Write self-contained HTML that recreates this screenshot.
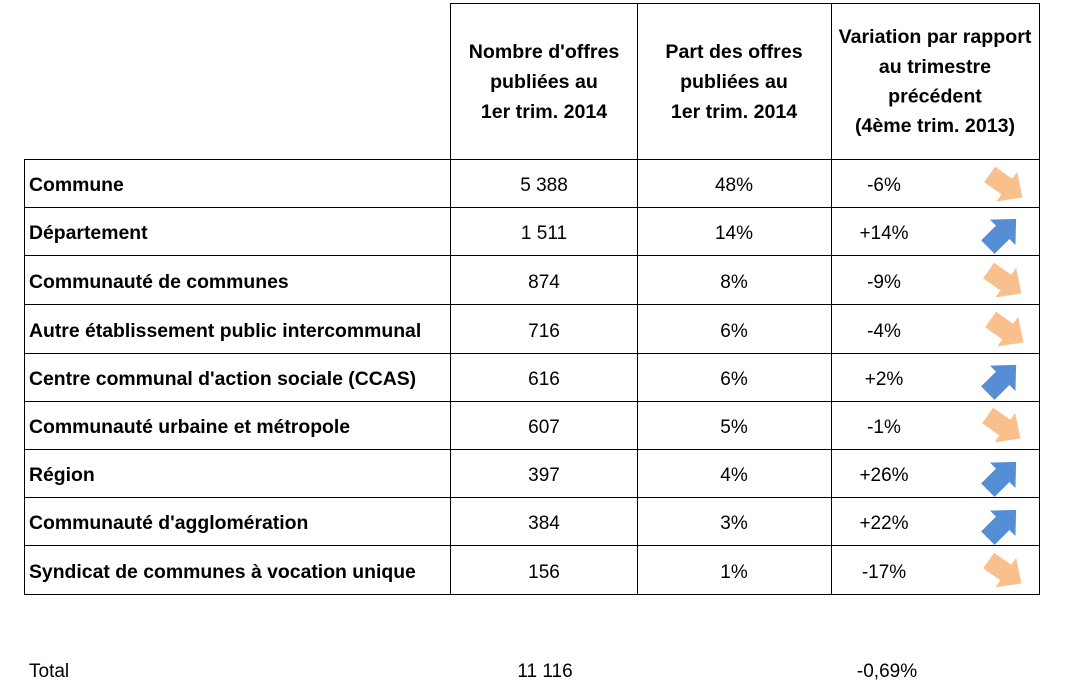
<!DOCTYPE html>
<html>
<head>
<meta charset="utf-8">
<style>
html,body{margin:0;padding:0;background:#fff;}
body{width:1068px;height:692px;overflow:hidden;}
svg{display:block;}
text{font-family:"Liberation Sans",Arial,sans-serif;fill:#000;}
.b{font-weight:bold;font-size:19.4px;}
.h{font-weight:bold;font-size:19.6px;}
.r{font-size:19px;}
</style>
</head>
<body>
<svg width="1068" height="692" viewBox="0 0 1068 692" xmlns="http://www.w3.org/2000/svg">
<defs>
<polygon id="arr" points="-20,-9.5 1,-9.5 1,-18 20,0 1,18 1,9.5 -20,9.5"/>
</defs>
<g stroke="#000" stroke-width="1.3" fill="none" shape-rendering="crispEdges">
<line x1="450" y1="3.5" x2="1039" y2="3.5"/>
<line x1="450.5" y1="3" x2="450.5" y2="594"/>
<line x1="637.5" y1="3" x2="637.5" y2="594"/>
<line x1="831.5" y1="3" x2="831.5" y2="594"/>
<line x1="1039.5" y1="3" x2="1039.5" y2="594"/>
<line x1="24.5" y1="159" x2="24.5" y2="594"/>
<line x1="24" y1="159.5" x2="1040" y2="159.5"/>
<line x1="24" y1="207.5" x2="1040" y2="207.5"/>
<line x1="24" y1="255.5" x2="1040" y2="255.5"/>
<line x1="24" y1="304.5" x2="1040" y2="304.5"/>
<line x1="24" y1="353.5" x2="1040" y2="353.5"/>
<line x1="24" y1="401.5" x2="1040" y2="401.5"/>
<line x1="24" y1="449.5" x2="1040" y2="449.5"/>
<line x1="24" y1="497.5" x2="1040" y2="497.5"/>
<line x1="24" y1="545.5" x2="1040" y2="545.5"/>
<line x1="24" y1="594.5" x2="1040" y2="594.5"/>
</g>

<g class="h" text-anchor="middle">
<text x="544" y="58">Nombre d'offres</text>
<text x="544" y="88">publiées au</text>
<text x="544" y="118">1er trim. 2014</text>
<text x="734" y="58">Part des offres</text>
<text x="734" y="88">publiées au</text>
<text x="734" y="118">1er trim. 2014</text>
<text x="935" y="43">Variation par rapport</text>
<text x="935" y="73">au trimestre</text>
<text x="935" y="102.5">précédent</text>
<text x="935" y="132">(4ème trim. 2013)</text>
</g>

<g class="b">
<text x="29" y="191">Commune</text>
<text x="29" y="239">Département</text>
<text x="29" y="288">Communauté de communes</text>
<text x="29" y="337">Autre établissement public intercommunal</text>
<text x="29" y="385">Centre communal d'action sociale (CCAS)</text>
<text x="29" y="433">Communauté urbaine et métropole</text>
<text x="29" y="481">Région</text>
<text x="29" y="529">Communauté d'agglomération</text>
<text x="29" y="578">Syndicat de communes à vocation unique</text>
</g>

<g class="r" text-anchor="middle">
<text x="544" y="191">5 388</text>
<text x="544" y="239">1 511</text>
<text x="544" y="288">874</text>
<text x="544" y="337">716</text>
<text x="544" y="385">616</text>
<text x="544" y="433">607</text>
<text x="544" y="481">397</text>
<text x="544" y="529">384</text>
<text x="544" y="578">156</text>

<text x="734" y="191">48%</text>
<text x="734" y="239">14%</text>
<text x="734" y="288">8%</text>
<text x="734" y="337">6%</text>
<text x="734" y="385">6%</text>
<text x="734" y="433">5%</text>
<text x="734" y="481">4%</text>
<text x="734" y="529">3%</text>
<text x="734" y="578">1%</text>

<text x="884" y="191">-6%</text>
<text x="884" y="239">+14%</text>
<text x="884" y="288">-9%</text>
<text x="884" y="337">-4%</text>
<text x="884" y="385">+2%</text>
<text x="884" y="433">-1%</text>
<text x="884" y="481">+26%</text>
<text x="884" y="529">+22%</text>
<text x="884" y="578">-17%</text>
</g>

<g fill="#F9BF8D">
<use href="#arr" transform="translate(1006,186) rotate(35)"/>
<use href="#arr" transform="translate(1005,282) rotate(35)"/>
<use href="#arr" transform="translate(1007,331) rotate(35)"/>
<use href="#arr" transform="translate(1004,427) rotate(35)"/>
<use href="#arr" transform="translate(1005,572) rotate(35)"/>
</g>
<g fill="#558ED5">
<use href="#arr" transform="translate(1002,233) rotate(-45)"/>
<use href="#arr" transform="translate(1002,379) rotate(-45)"/>
<use href="#arr" transform="translate(1002,476) rotate(-45)"/>
<use href="#arr" transform="translate(1002,524) rotate(-45)"/>
</g>

<g class="r">
<text x="29" y="677">Total</text>
<text x="545" y="677" text-anchor="middle">11 116</text>
<text x="887" y="677" text-anchor="middle">-0,69%</text>
</g>
</svg>
</body>
</html>
